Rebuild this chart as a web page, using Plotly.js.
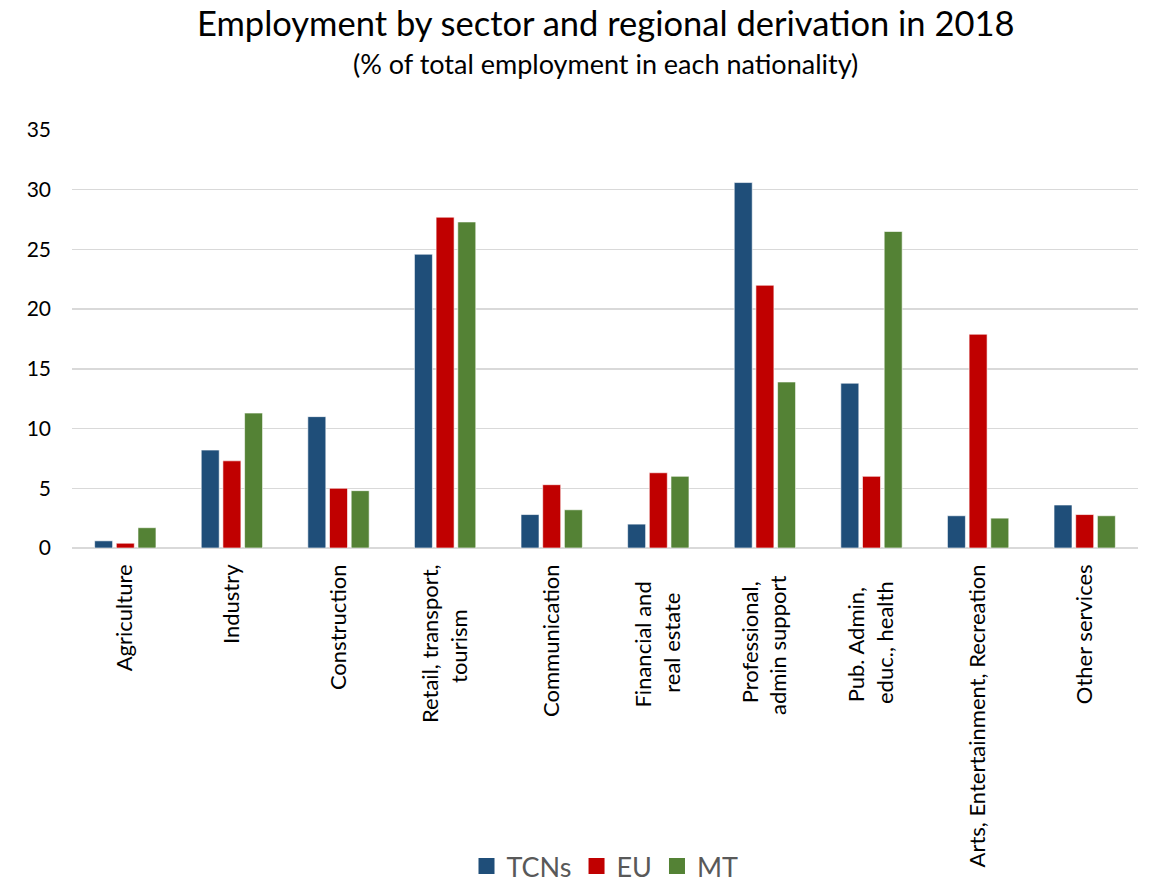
<!DOCTYPE html>
<html>
<head>
<meta charset="utf-8">
<script src="https://cdn.plot.ly/plotly-3.0.1.min.js"></script>
<style>html,body{margin:0;padding:0;background:#fff}#chart{width:1150px;height:891px}</style>
</head>
<body>
<div id="chart"></div>
<script>
const categories = [
  "Agriculture",
  "Industry",
  "Construction",
  "Retail, transport,<br>tourism",
  "Communication",
  "Financial and<br>real estate",
  "Professional,<br>admin support",
  "Pub. Admin,<br>educ., health",
  "Arts, Entertainment, Recreation",
  "Other services"
];
const tcnValues = [0.6, 8.2, 11.0, 24.6, 2.8, 2.0, 30.6, 13.8, 2.7, 3.6];
const euValues  = [0.4, 7.3, 5.0, 27.7, 5.3, 6.3, 22.0, 6.0, 17.9, 2.8];
const mtValues  = [1.7, 11.3, 4.8, 27.3, 3.2, 6.0, 13.9, 26.5, 2.5, 2.7];
const yTicks = [0, 5, 10, 15, 20, 25, 30, 35];
const seriesNames = ['TCNs', 'EU', 'MT'];
const seriesColors = ['#1F4E79', '#C00000', '#548235'];
const seriesValues = [tcnValues, euValues, mtValues];

const FONT = 'Lato, Open Sans, Liberation Sans, sans-serif';
const XFONT_SIZE = 22;

// Center wrapped (multi-line) rotated labels like the original chart, by padding
// each line with trailing no-break spaces (rotated labels are end-anchored).
const ctx = document.createElement('canvas').getContext('2d');
ctx.font = XFONT_SIZE + 'px Lato';
const nbspW = ctx.measureText('\u00A0').width || XFONT_SIZE * 0.19;
const multi = categories.filter(c => c.indexOf('<br>') >= 0);
let boxW = 0;
multi.forEach(c => c.split('<br>').forEach(l => { boxW = Math.max(boxW, ctx.measureText(l).width); }));
const tickText = categories.map(c => {
  if (c.indexOf('<br>') < 0) return c;
  return c.split('<br>').map(l => {
    const pad = (boxW - ctx.measureText(l).width) / 2;
    return l + '\u00A0'.repeat(Math.max(0, Math.round(pad / nbspW)));
  }).join('<br>');
});

const data = [];
seriesNames.forEach((name, i) => {
  data.push({
    type: 'bar', name: name, x: categories, y: seriesValues[i],
    marker: {color: seriesColors[i], line: {color: 'rgba(255,255,255,0.6)', width: 1}},
    showlegend: false, legendgroup: name
  });
});
// legend entries with larger square swatches
seriesNames.forEach((name, i) => {
  data.push({
    type: 'scatter', mode: 'markers', name: name, x: [null], y: [null],
    marker: {symbol: 'square', size: 17, color: seriesColors[i]},
    showlegend: true, legendgroup: name
  });
});

const layout = {
  width: 1150, height: 891,
  paper_bgcolor: '#fff', plot_bgcolor: '#fff',
  font: {family: FONT, color: '#000'},
  margin: {l: 72, r: 12, t: 130, b: 343},
  barmode: 'group',
  bargap: 0.39,
  bargroupgap: 0.17,
  annotations: [
    {text: 'Employment by sector and regional derivation in 2018', xref: 'paper', yref: 'paper',
     x: 0.5, y: 1.258, xanchor: 'center', yanchor: 'middle', showarrow: false,
     font: {family: FONT, size: 34.5, color: '#000'}},
    {text: '(% of total employment in each nationality)', xref: 'paper', yref: 'paper',
     x: 0.5, y: 1.16, xanchor: 'center', yanchor: 'middle', showarrow: false,
     font: {family: FONT, size: 27, color: '#000'}}
  ],
  xaxis: {
    tickangle: -90,
    tickmode: 'array', tickvals: categories, ticktext: tickText,
    tickfont: {family: FONT, size: XFONT_SIZE, color: '#000'},
    showgrid: false, showline: false, zeroline: false,
    ticks: '', ticklabelstandoff: 11
  },
  yaxis: {
    range: [0, 35],
    tickvals: yTicks,
    ticktext: yTicks.map(String),
    tickfont: {family: FONT, size: 21, color: '#000'},
    showgrid: true, gridcolor: '#D9D9D9', gridwidth: 1.5,
    zeroline: true, zerolinecolor: '#D9D9D9', zerolinewidth: 1.5,
    showline: false, ticks: '', ticklabelstandoff: 20
  },
  legend: {
    orientation: 'h', x: 0.5, xanchor: 'center', xref: 'paper',
    y: 0.0, yanchor: 'bottom', yref: 'container',
    font: {family: FONT, size: 27, color: '#595959'},
    itemwidth: 30, tracegroupgap: 0
  },
  showlegend: true
};

Plotly.newPlot('chart', data, layout, {displayModeBar: false, staticPlot: true});
</script>
</body>
</html>
